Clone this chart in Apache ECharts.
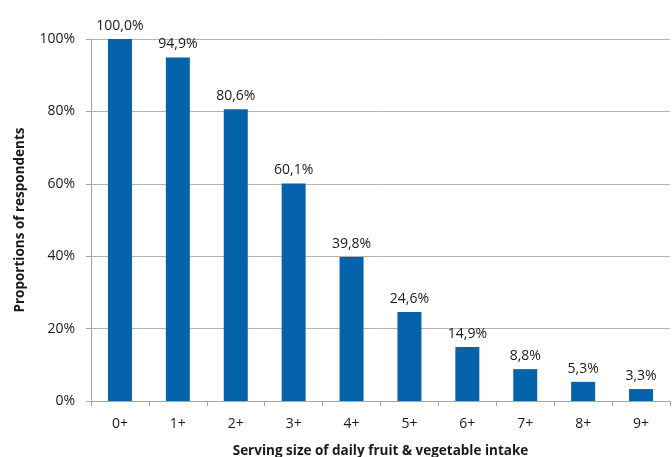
<!DOCTYPE html>
<html>
<head>
<meta charset="utf-8">
<script src="https://cdn.jsdelivr.net/npm/echarts@6/dist/echarts.min.js"></script>
<style>
  html, body { margin: 0; padding: 0; background: #fff; }
  #chart { width: 672px; height: 457px; }
</style>
</head>
<body>
<div id="chart"></div>
<script>
var categories = ['0+', '1+', '2+', '3+', '4+', '5+', '6+', '7+', '8+', '9+'];
var proportions = [100.0, 94.9, 80.6, 60.1, 39.8, 24.6, 14.9, 8.8, 5.3, 3.3];
var yTicks = [0, 20, 40, 60, 80, 100];

var font = '"Open Sans", "Liberation Sans", sans-serif';
var myChart = echarts.init(document.getElementById('chart'));
var option = {
    animation: false,
    grid: {
        left: 91,
        right: 2,
        top: 39,
        bottom: 56,
        outerBoundsMode: 'none'
    },
    xAxis: {
        type: 'category',
        data: categories,
        name: 'Serving size of daily fruit & vegetable intake',
        nameLocation: 'middle',
        nameGap: 43,
        nameTextStyle: { fontFamily: font, fontWeight: 'bold', fontSize: 13.5, color: '#1a1a1a' },
        axisLine: { lineStyle: { color: '#a6a6a6', width: 1 } },
        axisTick: { show: true, length: 5, lineStyle: { color: '#a6a6a6' } },
        axisLabel: { fontFamily: font, fontSize: 14, color: '#1a1a1a', margin: 16 }
    },
    yAxis: {
        type: 'value',
        min: 0,
        max: 100,
        interval: 20,
        name: 'Proportions of respondents',
        nameLocation: 'middle',
        nameGap: 64,
        nameTextStyle: { fontFamily: font, fontWeight: 'bold', fontSize: 13.5, color: '#1a1a1a' },
        axisLine: { show: true, lineStyle: { color: '#a6a6a6' } },
        axisTick: { show: true, length: 5, lineStyle: { color: '#a6a6a6' } },
        splitLine: { lineStyle: { color: '#b3b3b3', width: 1 } },
        axisLabel: {
            fontFamily: font, fontSize: 14, color: '#1a1a1a', margin: 16,
            formatter: function (v) { return yTicks.indexOf(v) >= 0 ? v + '%' : ''; }
        }
    },
    series: [{
        type: 'bar',
        data: proportions,
        barWidth: 24,
        itemStyle: { color: '#0563ac' },
        label: {
            show: true,
            position: 'top',
            distance: 6,
            fontFamily: font,
            fontSize: 14,
            color: '#1a1a1a',
            formatter: function (p) { return p.value.toFixed(1).replace('.', ',') + '%'; }
        }
    }]
};
myChart.setOption(option);
</script>
</body>
</html>
